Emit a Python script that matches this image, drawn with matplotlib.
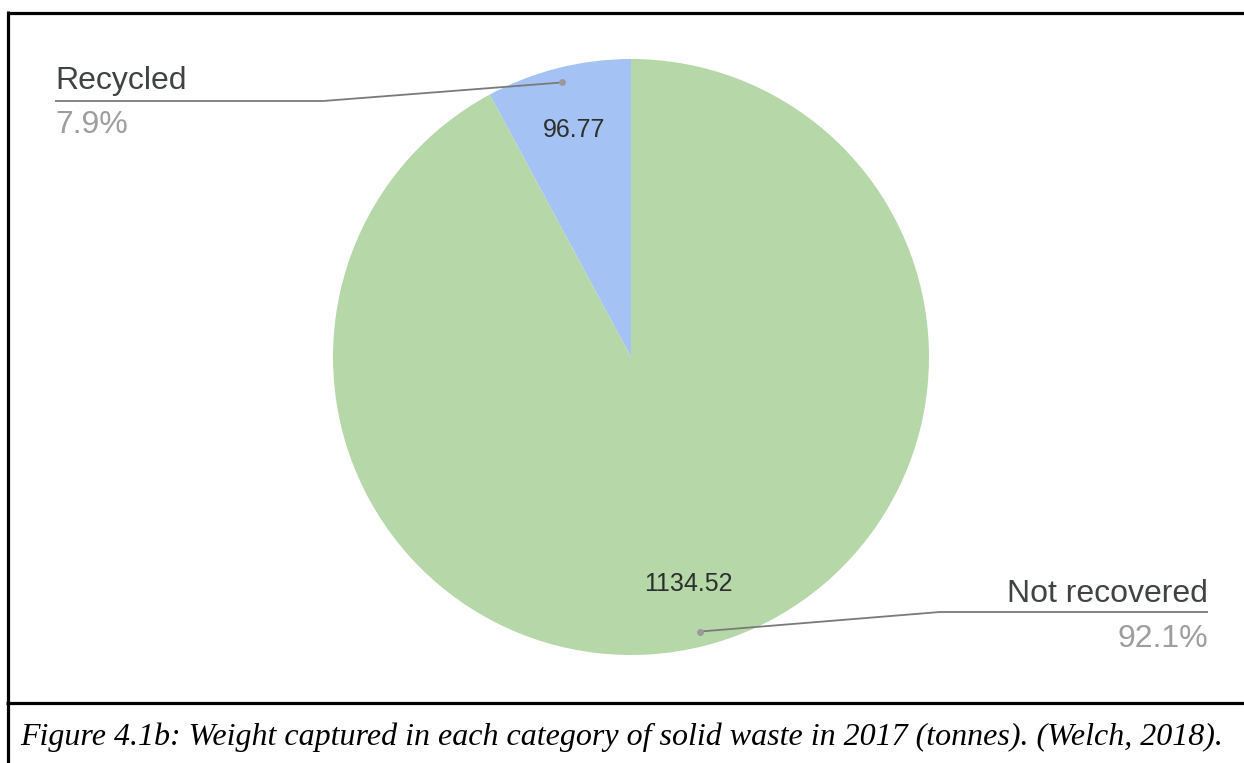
import numpy as np
import matplotlib.pyplot as plt

plt.rcParams['font.family'] = ['Liberation Sans', 'DejaVu Sans']

# tonnes captured in 2017
categories = ['Recycled', 'Not recovered']
weights = [96.77, 1134.52]
colors = ['#a4c2f4', '#b6d7a8']

W, H = 1244, 763
fig = plt.figure(figsize=(W / 100, H / 100), dpi=100)

# pie axes: centre (631, 357) px, radius 298 px
cx, cy, r = 631, 357, 298
ax = fig.add_axes([(cx - r) / W, (H - cy - r) / H, 2 * r / W, 2 * r / H])
total = sum(weights)
wedges, _, values = ax.pie(
    weights, colors=colors, startangle=90, counterclock=True,
    autopct=lambda p: f'{p * total / 100:.2f}', pctdistance=0.785,
    textprops={'fontsize': 18, 'color': '#2b302c'},
    wedgeprops={'linewidth': 0})
ax.set_xlim(-1, 1)
ax.set_ylim(-1, 1)

# overlay in pixel coordinates for leader lines, labels and the frame
ov = fig.add_axes([0, 0, 1, 1], zorder=5)
ov.set_xlim(0, W)
ov.set_ylim(H, 0)
ov.axis('off')
ov.patch.set_alpha(0)

label_c = '#3f4441'
pct_c = '#9e9e9e'
line_c = '#7a7a7a'

# label layout: (text x, align, name baseline, pct baseline, elbow x, line end x, line y)
layout = [
    (55, 'left', 89, 133, 323, 55, 101),
    (1208, 'right', 602, 647, 940, 1208, 612),
]

for w, name, (tx, ha, yb, pb, ex, lx, ly) in zip(wedges, categories, layout):
    mid = np.deg2rad((w.theta1 + w.theta2) / 2)
    dx = cx + 0.95 * r * np.cos(mid)
    dy = cy - 0.95 * r * np.sin(mid)
    ov.plot([dx, ex, lx], [dy, ly, ly], color=line_c, lw=1.3,
            solid_capstyle='butt')
    ov.plot(dx, dy, 'o', color='#9a9a9a', ms=5, mec='none')
    pct = w.theta2 - w.theta1
    ov.text(tx, yb, name, ha=ha, va='baseline', fontsize=23, color=label_c)
    ov.text(tx, pb, f'{pct / 360 * 100:.1f}%', ha=ha, va='baseline',
            fontsize=23, color=pct_c)

# frame and caption box
ov.plot([7.5, W], [12.5, 12.5], color='black', lw=2.3, solid_capstyle='butt')
ov.plot([7.5, 7.5], [11, H], color='black', lw=2.3, solid_capstyle='butt')
ov.plot([6, W], [702.5, 702.5], color='black', lw=2.3, solid_capstyle='butt')
ov.text(20, 745, 'Figure 4.1b: Weight captured in each category of solid waste '
        'in 2017 (tonnes). (Welch, 2018).', ha='left', va='baseline',
        fontsize=23, fontstyle='italic', family='Liberation Serif',
        color='black')

fig.savefig('out.png', dpi=100)
